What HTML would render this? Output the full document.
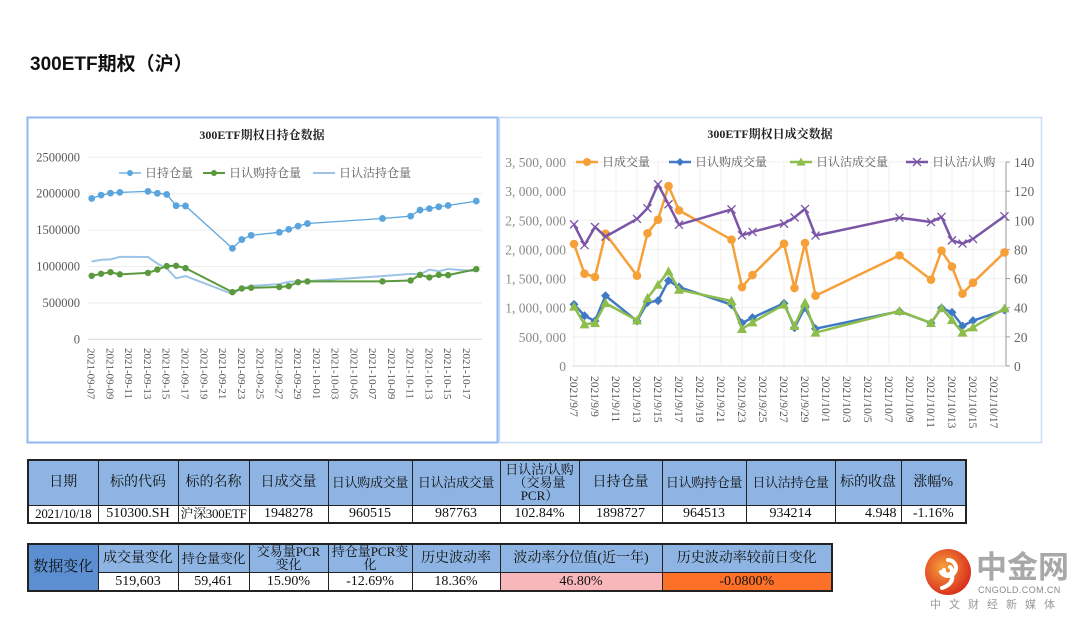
<!DOCTYPE html>
<html><head><meta charset="utf-8">
<style>
html,body{margin:0;padding:0;background:#fff;}
body{width:1080px;height:621px;position:relative;overflow:hidden;font-family:"Liberation Serif","Noto Serif CJK SC",serif;}
#title{position:absolute;left:30px;top:49px;font:bold 19px "Liberation Sans","Noto Sans CJK SC",sans-serif;color:#111;}
svg{position:absolute;left:0;top:0;}
table{position:absolute;border-collapse:collapse;table-layout:fixed;font-size:14px;color:#111;}
td{border:1px solid #222;text-align:center;padding:0;line-height:15px;overflow:hidden;white-space:nowrap;}
.h{background:#8db4e2;}
.w{background:#fff;}
.wrap{white-space:normal;line-height:13px;font-size:13px;}
.sm{font-size:13px;letter-spacing:-0.3px;}
</style></head><body>
<div id="title">300ETF期权（沪）</div>
<svg id="chart" width="1080" height="621"></svg>

<table id="t1" style="left:27px;top:459px;width:938px;border:2px solid #222;">
<colgroup><col style="width:70px"><col style="width:80px"><col style="width:71px"><col style="width:79px"><col style="width:84px"><col style="width:88px"><col style="width:79px"><col style="width:83px"><col style="width:84px"><col style="width:89px"><col style="width:66px"><col style="width:65px"></colgroup>
<tr style="height:45px" class="h">
<td>日期</td><td>标的代码</td><td>标的名称</td><td>日成交量</td><td class="sm">日认购成交量</td><td class="sm">日认沽成交量</td><td class="wrap">日认沽/认购（交易量PCR）</td><td>日持仓量</td><td class="sm">日认购持仓量</td><td class="sm">日认沽持仓量</td><td>标的收盘</td><td>涨幅%</td></tr>
<tr style="height:18px" class="w">
<td class="sm">2021/10/18</td><td>510300.SH</td><td class="sm">沪深300ETF</td><td>1948278</td><td>960515</td><td>987763</td><td>102.84%</td><td>1898727</td><td>964513</td><td>934214</td><td style="text-align:right;padding-right:4px">4.948</td><td>-1.16%</td></tr>
</table>

<table id="t2" style="left:27px;top:543px;width:804px;border:2px solid #222;">
<colgroup><col style="width:70px"><col style="width:80px"><col style="width:71px"><col style="width:79px"><col style="width:84px"><col style="width:88px"><col style="width:162px"><col style="width:170px"></colgroup>
<tr style="height:28px" class="h">
<td rowspan="2" style="background:#5b8fd2;font-size:15px">数据变化</td>
<td>成交量变化</td><td class="sm">持仓量变化</td><td class="wrap">交易量PCR<br>变化</td><td class="wrap">持仓量PCR变<br>化</td><td>历史波动率</td><td>波动率分位值(近一年)</td><td>历史波动率较前日变化</td></tr>
<tr style="height:19px" class="w">
<td>519,603</td><td>59,461</td><td>15.90%</td><td>-12.69%</td><td>18.36%</td><td style="background:#f8b8bb">46.80%</td><td style="background:#fd7027">-0.0800%</td></tr>
</table>

<div style="position:absolute;left:922px;top:548px;width:158px;height:65px;">
<svg width="52" height="52" viewBox="0 0 52 52" style="left:0;top:0">
<defs><radialGradient id="lg" cx="40%" cy="40%" r="65%"><stop offset="0" stop-color="#f7a23c"/><stop offset="1" stop-color="#d8291c"/></radialGradient></defs>
<circle cx="26" cy="24" r="23" fill="url(#lg)"/>
<path d="M26 12 a8 8 0 1 1 -7 12 M22 22 a4 4 0 1 0 6 -3 M30 26 q2 10 -10 14" stroke="#fff" stroke-width="4" fill="none" stroke-linecap="round"/>
</svg>
<div style="position:absolute;left:54px;top:-3px;font:bold 31px 'Noto Sans CJK SC',sans-serif;color:#a8a8a8;white-space:nowrap;line-height:40px">中金网</div>
<div style="position:absolute;left:56px;top:37px;font:9px 'Liberation Sans',sans-serif;color:#888;letter-spacing:0.4px;white-space:nowrap">CNGOLD.COM.CN</div>
<div style="position:absolute;left:8px;top:48px;font:11px 'Noto Sans CJK SC',sans-serif;color:#999;letter-spacing:8px;white-space:nowrap">中文财经新媒体</div>
</div>

<script>
const dates = ["2021-09-07","2021-09-08","2021-09-09","2021-09-10","2021-09-13","2021-09-14","2021-09-15","2021-09-16","2021-09-17","2021-09-22","2021-09-23","2021-09-24","2021-09-27","2021-09-28","2021-09-29","2021-09-30","2021-10-08","2021-10-11","2021-10-12","2021-10-13","2021-10-14","2021-10-15","2021-10-18"];
const totalOI = [1935000,1980000,2008000,2018000,2032000,2005000,1990000,1835000,1832000,1250000,1370000,1428000,1470000,1510000,1555000,1590000,1660000,1692000,1775000,1795000,1820000,1838000,1898727];
const callOI = [872000,900000,922000,892000,912000,958000,1005000,1010000,978000,648000,698000,708000,718000,730000,785000,795000,795000,808000,885000,850000,885000,882000,964513];
const putOI = [1068000,1092000,1098000,1132000,1130000,1040000,975000,838000,868000,622000,700000,732000,758000,790000,795000,800000,868000,898000,892000,958000,935000,965000,934214];
const totalVol = [2093000,1584000,1527000,2270000,1550000,2276000,2510000,3087000,2670000,2167000,1355000,1561000,2098000,1338000,2110000,1206000,1898000,1481000,1978000,1704000,1241000,1429000,1948278];
const callVol = [1058000,863000,772000,1206000,772000,1090000,1120000,1464000,1355000,1052000,738000,829000,1075000,657000,1006000,640000,938000,738000,995000,920000,686000,778000,960515];
const putVol = [1018000,715000,738000,1080000,783000,1166000,1395000,1624000,1309000,1115000,635000,749000,1052000,686000,1086000,572000,943000,738000,995000,789000,572000,663000,987763];
const pcr = [97.2,83,95.4,88.8,100.9,108.2,124.7,111,97,107.5,89.7,92,97.7,102,107.8,89.5,101.8,98.8,102.3,86.2,84,87.2,102.84];
const leftTicks = [0,500000,1000000,1500000,2000000,2500000];
const rightTicksL = [0,500000,1000000,1500000,2000000,2500000,3000000,3500000];
const rightTicksR = [0,20,40,60,80,100,120,140];
const leftTickLabels = ["0","500000","1000000","1500000","2000000","2500000"];
const rightTickLabelsL = ["0","500, 000","1, 000, 000","1, 500, 000","2, 000, 000","2, 500, 000","3, 000, 000","3, 500, 000"];

const NS="http://www.w3.org/2000/svg";
const svg=document.getElementById('chart');
function el(tag,attrs,parent){const e=document.createElementNS(NS,tag);for(const k in attrs)e.setAttribute(k,attrs[k]);(parent||svg).appendChild(e);return e;}
const t0=Date.UTC(2021,8,7);
function dayOf(s){const p=s.split('-');return Math.round((Date.UTC(+p[0],+p[1]-1,+p[2])-t0)/86400000);}
const days=dates.map(dayOf);

let p=el('rect',{x:27.5,y:117.5,width:470,height:325,fill:'#fff',stroke:'#8fb8ef','stroke-width':2});


p=el('rect',{x:499.5,y:117.5,width:542,height:325,fill:'#fff',stroke:'#c8dcf6','stroke-width':1.5});



const FONT='"Liberation Serif","Noto Serif CJK SC",serif';
function text(x,y,s,o){const t=el('text',Object.assign({x:x,y:y,'font-family':FONT,'font-size':12,fill:'#595959'},o||{}));t.textContent=s;return t;}

// LEFT CHART
const lx=d=>91.7+d*9.38;
const ly=v=>339.3-v/2500000*182;
let t=text(262,139,'300ETF期权日持仓数据',{'text-anchor':'middle','font-weight':'bold',fill:'#222','font-size':12});


leftTicks.forEach((v,i)=>{
  const g=el('line',{x1:88,x2:482,y1:ly(v),y2:ly(v),stroke:i==0?'#d9d9d9':'#eeeeee','stroke-width':1});
  
  
  const tl=text(80,ly(v)+4,leftTickLabels[i],{'text-anchor':'end','font-size':12.5});
  
  
});
for(let d=0;d<=40;d+=2){
  const dt=new Date(t0+d*86400000);
  const s=dt.getUTCFullYear()+'-'+String(dt.getUTCMonth()+1).padStart(2,'0')+'-'+String(dt.getUTCDate()).padStart(2,'0');
  const tl=text(0,0,s,{transform:`translate(${lx(d)-4},348) rotate(90)`,'font-size':11});
  
  
}
function series(xf,yf,vals,color,w,name,marker,ms){
  const pts=vals.map((v,i)=>xf(days[i]).toFixed(1)+','+yf(v).toFixed(1)).join(' ');
  const l=el('polyline',{points:pts,fill:'none',stroke:color,'stroke-width':w,'stroke-linejoin':'round'});
  
  
  vals.forEach((v,i)=>{const m=drawMarker(marker,xf(days[i]),yf(v),color,ms);
    if(m){
    }});
}
function drawMarker(type,x,y,c,s){
  if(type=='circle')return el('circle',{cx:x,cy:y,r:s,fill:c});
  if(type=='diamond')return el('polygon',{points:`${x},${y-s} ${x+s},${y} ${x},${y+s} ${x-s},${y}`,fill:c});
  if(type=='tri')return el('polygon',{points:`${x},${y-s} ${x+s},${y+s*0.8} ${x-s},${y+s*0.8}`,fill:c});
  if(type=='x')return el('path',{d:`M${x-s},${y-s}L${x+s},${y+s}M${x-s},${y+s}L${x+s},${y-s}`,stroke:c,'stroke-width':1.3});
  return null;
}
series(lx,ly,putOI,'#9dc3e6',2,'left-put-oi',null,0);
series(lx,ly,callOI,'#5b9a3c',2,'left-call-oi','circle',3.2);
series(lx,ly,totalOI,'#5aa5dd',1.3,'left-total-oi','circle',3.4);
function legend(x,y,color,w,marker,ms,label,name,len){
  len=len||22;
  const l=el('line',{x1:x,x2:x+len,y1:y,y2:y,stroke:color,'stroke-width':w});
  
  
  drawMarker(marker,x+len/2,y,color,ms);
  const tt=text(x+len+4,y+4,label,{'font-size':12});
  
  
}
legend(119,173,'#5aa5dd',1.3,'circle',3,'日持仓量','left-legend-total-oi');
legend(203,173,'#5b9a3c',2,'circle',3,'日认购持仓量','left-legend-call-oi');
legend(313,173,'#9dc3e6',2,null,0,'日认沽持仓量','left-legend-put-oi');

// RIGHT CHART
const rx=d=>574+d*10.5;
const ryL=v=>366-v/3500000*204;
const ryR=v=>366-v/140*204;
t=text(770,138,'300ETF期权日成交数据',{'text-anchor':'middle','font-weight':'bold',fill:'#222','font-size':12});


for(let d=0;d<=40;d+=2){
  const g=el('line',{x1:rx(d),x2:rx(d),y1:162,y2:366,stroke:'#efefef','stroke-width':1});
  
  
  const dt=new Date(t0+d*86400000);
  const s=dt.getUTCFullYear()+'/'+(dt.getUTCMonth()+1)+'/'+dt.getUTCDate();
  const tl=text(0,0,s,{transform:`translate(${rx(d)-4},376) rotate(90)`,'font-size':11.5});
  
  
}
rightTicksL.forEach((v,i)=>{
  const g=el('line',{x1:572,x2:1006,y1:ryL(v),y2:ryL(v),stroke:i==0?'#d9d9d9':'#efefef','stroke-width':1});
  
  
  const tl=text(566,ryL(v)+5,rightTickLabelsL[i],{'text-anchor':'end','font-size':13.5,fill:'#8a8a8a'});
  
  
});
let ax=el('line',{x1:1006,x2:1006,y1:162,y2:366,stroke:'#999','stroke-width':1});


rightTicksR.forEach(v=>{
  el('line',{x1:1006,x2:1010,y1:ryR(v),y2:ryR(v),stroke:'#999'});
  const tl=text(1014,ryR(v)+5,String(v),{'font-size':13.5,fill:'#666'});
  
  
});
series(rx,ryL,callVol,'#3f78c4',2.5,'right-call-volume','diamond',4.5);
series(rx,ryL,putVol,'#8dbd4b',2.5,'right-put-volume','tri',5);
series(rx,ryL,totalVol,'#f6a03a',2.5,'right-total-volume','circle',4.3);
series(rx,ryR,pcr,'#7b55a6',2.5,'right-pcr','x',4);
legend(576,162,'#f6a03a',2.5,'circle',4,'日成交量','right-legend-total-volume');
legend(669,162,'#3f78c4',2.5,'diamond',4,'日认购成交量','right-legend-call-volume');
legend(790,162,'#8dbd4b',2.5,'tri',4.5,'日认沽成交量','right-legend-put-volume');
legend(906,162,'#7b55a6',2.5,'x',4,'日认沽/认购','right-legend-pcr');
</script>
</body></html>
